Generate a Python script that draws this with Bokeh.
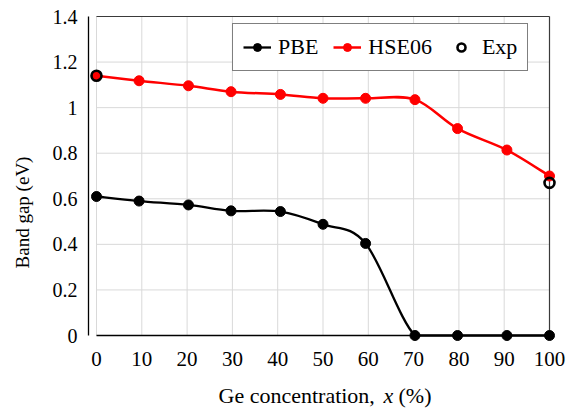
from bokeh.plotting import figure
from bokeh.models import Range1d, FixedTicker, Legend, LegendItem, Label
from bokeh.embed import file_html
from bokeh.resources import INLINE

# ---- data ----
conc = [0, 9.4, 20.3, 29.7, 40.6, 50.0, 59.4, 70.3, 79.7, 90.6, 100]
pbe = [0.61, 0.59, 0.573, 0.547, 0.544, 0.488, 0.404, 0.0, 0.0, 0.0, 0.0]
hse06 = [1.14, 1.118, 1.096, 1.070, 1.058, 1.041, 1.041, 1.035, 0.908, 0.814, 0.70]
exp_x = [0, 100]
exp_y = [1.14, 0.67]

x_ticks = [0, 10, 20, 30, 40, 50, 60, 70, 80, 90, 100]
x_tick_labels = ["0", "10", "20", "30", "40", "50", "60", "70", "80", "90", "100"]
y_ticks = [0, 0.2, 0.4, 0.6, 0.8, 1.0, 1.2, 1.4]
y_tick_labels = ["0", "0.2", "0.4", "0.6", "0.8", "1", "1.2", "1.4"]

FONT = "Liberation Serif"

# ---- layout constants (pixels) ----
BOX_W, BOX_H = 453, 319          # plotting box size
PAD = 8                          # room so edge markers are not clipped
RIGHT_PAD = 20                   # frame reaches the right edge of the canvas
LEFT, TOP = 88, 8                # frame offset in the canvas
BOTTOM_EXTRA = 81                # frame continues below the box to hold the x title
ppx = BOX_W / (x_ticks[-1] - x_ticks[0])
ppy = BOX_H / (y_ticks[-1] - y_ticks[0])

x0, x1 = x_ticks[0], x_ticks[-1]
y0, y1 = y_ticks[0], y_ticks[-1]


def smooth_segments(xs, ys, ylo, yhi):
    """Bezier control points of a Catmull-Rom style smoothed line (spreadsheet 'smooth line');
    control points are kept inside the value axis range, as the spreadsheet clips at the plot area."""
    n = len(xs)
    seg = dict(x0=[], y0=[], x1=[], y1=[], cx0=[], cy0=[], cx1=[], cy1=[])
    clamp = lambda v: min(max(v, ylo), yhi)
    for i in range(n - 1):
        a = max(i - 1, 0)
        d = min(i + 2, n - 1)
        seg["x0"].append(xs[i]); seg["y0"].append(ys[i])
        seg["x1"].append(xs[i + 1]); seg["y1"].append(ys[i + 1])
        seg["cx0"].append(xs[i] + (xs[i + 1] - xs[a]) / 6.0)
        seg["cy0"].append(clamp(ys[i] + (ys[i + 1] - ys[a]) / 6.0))
        seg["cx1"].append(xs[i + 1] - (xs[d] - xs[i]) / 6.0)
        seg["cy1"].append(clamp(ys[i + 1] - (ys[d] - ys[i]) / 6.0))
    return seg


p = figure(frame_width=BOX_W + PAD + RIGHT_PAD, frame_height=BOX_H + PAD + BOTTOM_EXTRA,
           x_range=Range1d(x0 - PAD / ppx, x1 + RIGHT_PAD / ppx),
           y_range=Range1d(y0 - BOTTOM_EXTRA / ppy, y1 + PAD / ppy),
           output_backend="svg", toolbar_location=None,
           min_border_left=LEFT, min_border_right=0, min_border_top=TOP, min_border_bottom=0,
           background_fill_color="white", border_fill_color="white")
p.outline_line_color = None
p.xgrid.visible = False
p.ygrid.visible = False

# gridlines from the tick arrays, limited to the plotting box
p.segment(x0=x_ticks, y0=[y0] * len(x_ticks), x1=x_ticks, y1=[y1] * len(x_ticks),
          line_color="#d9d9d9", line_width=1)
p.segment(x0=[x0] * len(y_ticks), y0=y_ticks, x1=[x1] * len(y_ticks), y1=y_ticks,
          line_color="#d9d9d9", line_width=1)
# top and right border of the box
p.segment(x0=[x0, x1], y0=[y1, y0], x1=[x1, x1], y1=[y1, y1], line_color="#3a3a3a", line_width=1.2)

# axes
p.xaxis.ticker = FixedTicker(ticks=x_ticks)
p.yaxis.ticker = FixedTicker(ticks=y_ticks)
p.xaxis.major_label_overrides = dict(zip(x_ticks, x_tick_labels))
p.yaxis.major_label_overrides = dict(zip(y_ticks, y_tick_labels))
p.xaxis.fixed_location = y0
p.xaxis.bounds = (x0, x1)
p.yaxis.bounds = (y0, y1)
for ax in (p.xaxis[0], p.yaxis[0]):
    ax.axis_line_color = "black"
    ax.axis_line_width = 1.3
    ax.major_tick_in = 0
    ax.major_tick_out = 0
    ax.minor_tick_in = 0
    ax.minor_tick_out = 0
    ax.major_label_text_font = FONT
    ax.major_label_text_color = "black"
p.xaxis.major_label_text_font_size = "21px"
p.yaxis.major_label_text_font_size = "20px"
p.xaxis.major_label_standoff = 16
p.yaxis.major_label_standoff = 11

p.yaxis.axis_label = "Band gap (eV)"
p.yaxis.axis_label_text_font = FONT
p.yaxis.axis_label_text_font_size = "19px"
p.yaxis.axis_label_text_font_style = "normal"
p.yaxis.axis_label_text_color = "black"
p.yaxis.axis_label_standoff = 17

# x-axis title with an italic x, as three text pieces inside the (extended) frame
title_y = y0 - 60 / ppy
for txt, xpix, style in (("Ge concentration,", 122, "normal"),
                         ("x", 287, "italic"),
                         ("(%)", 302, "normal")):
    p.add_layout(Label(x=x0 + xpix / ppx, y=title_y, text=txt, text_font=FONT,
                       text_font_size="22px", text_font_style=style, text_color="black",
                       text_align="left", text_baseline="middle"))

# smoothed lines
pbe_seg = smooth_segments(conc, pbe, y0, y1)
hse_seg = smooth_segments(conc, hse06, y0, y1)
p.bezier(source=pbe_seg, x0="x0", y0="y0", x1="x1", y1="y1", cx0="cx0", cy0="cy0",
         cx1="cx1", cy1="cy1", line_color="black", line_width=2.3)
p.bezier(source=hse_seg, x0="x0", y0="y0", x1="x1", y1="y1", cx0="cx0", cy0="cy0",
         cx1="cx1", cy1="cy1", line_color="red", line_width=2.5)

pbe_pts = p.scatter(conc, pbe, marker="circle", size=10, fill_color="black",
                    line_color="black", level="overlay")
hse_pts = p.scatter(conc, hse06, marker="circle", size=10, fill_color="red",
                    line_color="red", level="overlay")
exp_pts = p.scatter(exp_x, exp_y, marker="circle", size=10, fill_color=None,
                    line_color="black", line_width=2.6, level="overlay")

# one-point lines: invisible in the plot, they give the legend its line samples
pbe_leg = p.line(conc[:1], pbe[:1], line_color="black", line_width=2.3)
hse_leg = p.line(conc[:1], hse06[:1], line_color="red", line_width=2.5)

legend = Legend(items=[LegendItem(label="PBE", renderers=[pbe_leg, pbe_pts]),
                       LegendItem(label="HSE06", renderers=[hse_leg, hse_pts]),
                       LegendItem(label="Exp", renderers=[exp_pts])],
                orientation="horizontal", location=(144, 345),
                border_line_color="black", border_line_width=1.2,
                background_fill_color="white", background_fill_alpha=1,
                padding=10, spacing=15, label_standoff=7, margin=0,
                glyph_width=28, glyph_height=20,
                label_text_font=FONT, label_text_font_size="22px", label_text_color="black")
p.add_layout(legend)

open("out.html", "w").write(file_html(p, INLINE))
